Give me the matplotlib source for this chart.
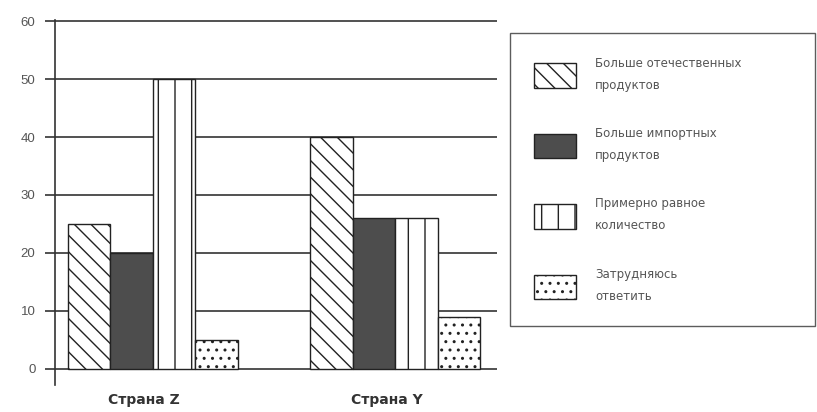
import numpy as np
import matplotlib
matplotlib.use("Agg")
import matplotlib.pyplot as plt
from matplotlib.patches import Patch

# -----------------------------
# Data
# -----------------------------
countries = ["Страна Z", "Страна Y"]
labels = [
    "Больше отечественных\nпродуктов",
    "Больше импортных\nпродуктов",
    "Примерно равное\nколичество",
    "Затрудняюсь\nответить",
]
domestic = [25, 40]
imported = [20, 26]
equal = [50, 26]
unsure = [5, 9]

series = [domestic, imported, equal, unsure]
hatches = ["\\\\", "", "|", ".."]
faces = ["white", "#4d4d4d", "white", "white"]

plt.rcParams["font.family"] = ["Liberation Sans", "DejaVu Sans"]
plt.rcParams["hatch.linewidth"] = 1.0

fig = plt.figure(figsize=(8.17, 4.12), dpi=100)
ax = fig.add_axes([55 / 817, 1 - 385 / 412, 442 / 817, 365 / 412])

centers = np.array([0.0, 5.7])
width = 1.0
offsets = np.array([-1.5, -0.5, 0.5, 1.5]) * width

for vals, h, fc, off in zip(series, hatches, faces, offsets):
    ax.bar(centers + off, vals, width=width, color=fc, edgecolor="#222222",
           hatch=h, linewidth=1.0, zorder=3)

ax.set_xlim(-2.3, 8.1)
ax.set_ylim(-2.8, 60.2)
ax.set_yticks(range(0, 61, 10))
ax.yaxis.grid(True, color="#333333", linewidth=1.2, zorder=0)
ax.set_axisbelow(True)

for s in ["top", "right", "bottom"]:
    ax.spines[s].set_visible(False)
ax.spines["left"].set_color("#333333")
ax.spines["left"].set_linewidth(1.2)

ax.tick_params(axis="y", length=7, width=1.2, color="#333333",
               labelcolor="#555555", labelsize=9.5, pad=7)
ax.set_xticks(centers - 0.2)
ax.set_xticklabels(countries, fontweight="bold", fontsize=10, color="#333333",
                   family=["DejaVu Sans"])
ax.tick_params(axis="x", length=0, pad=6)

handles = [Patch(facecolor=fc, edgecolor="#222222", hatch=h, linewidth=1.0)
           for h, fc in zip(hatches, faces)]
leg = fig.legend(handles, labels, loc="upper left",
                 bbox_to_anchor=(510 / 817, 1 - 345 / 412, 305 / 817, 312 / 412),
                 mode="expand",
                 prop={"family": "DejaVu Sans", "size": 8.5},
                 labelcolor="#555555", frameon=True, fancybox=False,
                 handlelength=3.6, handleheight=2.8, labelspacing=3.0,
                 borderpad=2.0, handletextpad=1.6, borderaxespad=0)
for t in leg.get_texts():
    t.set_linespacing(1.9)
leg.get_frame().set_edgecolor("#333333")
leg.get_frame().set_linewidth(1.0)

fig.savefig("out.png", dpi=100)
